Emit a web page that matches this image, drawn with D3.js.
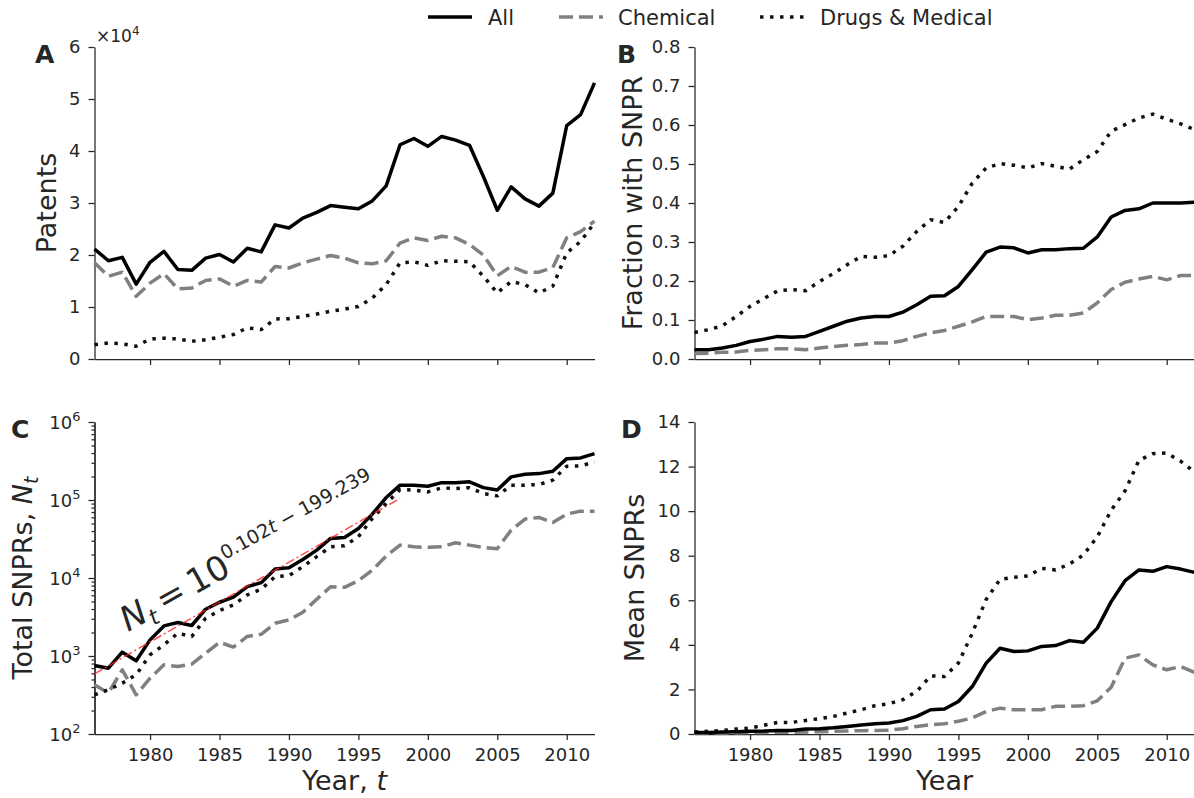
<!DOCTYPE html>
<html>
<head>
<meta charset="utf-8">
<script src="https://cdn.jsdelivr.net/npm/d3@7"></script>
<style>
body { margin: 0; background: #fff; }
text { font-family: "DejaVu Sans", sans-serif; fill: #262626; }
</style>
</head>
<body>
<script>
// years on the x axis
var years = d3.range(1976, 2013);
var xTicks = [1980, 1985, 1990, 1995, 2000, 2005, 2010];

// A: patents per year
var patentsAll = [21150, 18900, 19550, 14400, 18600, 20700, 17200, 17050, 19400, 20100, 18650, 21300, 20600, 25800, 25200, 27100, 28200, 29500, 29200, 28900, 30400, 33300, 41200, 42400, 40900, 42800, 42100, 41100, 35100, 28600, 33100, 30800, 29400, 31900, 44900, 47000, 53100];
var patentsChem = [18500, 15900, 16700, 12050, 14600, 16400, 13500, 13650, 15100, 15400, 14000, 15100, 14800, 17800, 17500, 18500, 19200, 19900, 19400, 18500, 18300, 18900, 22300, 23300, 22800, 23600, 23300, 22000, 20000, 16000, 17800, 16700, 16700, 17600, 23300, 24500, 26500];
var patentsDrug = [2750, 3100, 2900, 2450, 3850, 4000, 3850, 3400, 3700, 4200, 4700, 6000, 5650, 7700, 7750, 8200, 8650, 9200, 9600, 10100, 11700, 14300, 18500, 18700, 18000, 18900, 18800, 18700, 15900, 12700, 14900, 14300, 12700, 14000, 20400, 22600, 26200];

// B: fraction of patents with SNPR
var fracAll = [0.024, 0.024, 0.028, 0.035, 0.045, 0.051, 0.058, 0.056, 0.058, 0.071, 0.084, 0.097, 0.105, 0.109, 0.109, 0.120, 0.139, 0.161, 0.162, 0.186, 0.229, 0.274, 0.287, 0.285, 0.272, 0.280, 0.280, 0.283, 0.284, 0.313, 0.364, 0.381, 0.385, 0.400, 0.400, 0.400, 0.402];
var fracChem = [0.014, 0.015, 0.017, 0.018, 0.022, 0.024, 0.026, 0.026, 0.024, 0.028, 0.032, 0.035, 0.037, 0.041, 0.041, 0.047, 0.058, 0.067, 0.073, 0.084, 0.095, 0.109, 0.109, 0.109, 0.101, 0.105, 0.112, 0.112, 0.118, 0.144, 0.178, 0.197, 0.205, 0.212, 0.203, 0.214, 0.214];
var fracDrug = [0.068, 0.075, 0.085, 0.109, 0.135, 0.155, 0.175, 0.178, 0.175, 0.199, 0.219, 0.242, 0.263, 0.261, 0.265, 0.289, 0.327, 0.357, 0.350, 0.391, 0.451, 0.490, 0.501, 0.497, 0.490, 0.501, 0.494, 0.487, 0.511, 0.532, 0.584, 0.601, 0.618, 0.628, 0.615, 0.603, 0.588];

// C: total SNPRs (log scale)
var totalAll = [755, 698, 1120, 867, 1610, 2430, 2690, 2460, 3980, 4890, 5670, 7750, 8710, 13000, 13550, 17300, 22800, 32200, 33100, 43200, 65900, 107600, 155000, 155000, 150000, 167000, 166000, 171000, 144000, 134000, 198000, 214000, 218000, 234000, 339000, 346000, 394000];
var totalChem = [428, 335, 665, 318, 520, 770, 735, 786, 1086, 1500, 1300, 1780, 1900, 2630, 2900, 3640, 5330, 7740, 7590, 9250, 12600, 19100, 26400, 25100, 24700, 25100, 28300, 26400, 24700, 23700, 41100, 56900, 59700, 51500, 65900, 72000, 72000];
var totalDrug = [318, 369, 449, 574, 1035, 1390, 1960, 1780, 3050, 3820, 4520, 6070, 7170, 10400, 10700, 14000, 18800, 25100, 25900, 33800, 57900, 90200, 136000, 134000, 127000, 143000, 140000, 144000, 121000, 113000, 155000, 155000, 158000, 180000, 271000, 274000, 307000];
var fitYears = [1976, 1998];
var fitValues = [590, 105000];

// D: mean SNPRs
var meanAll = [0.07, 0.07, 0.09, 0.10, 0.12, 0.13, 0.16, 0.16, 0.22, 0.24, 0.28, 0.34, 0.40, 0.46, 0.49, 0.60, 0.79, 1.09, 1.12, 1.46, 2.13, 3.18, 3.85, 3.70, 3.73, 3.93, 3.97, 4.19, 4.12, 4.75, 5.94, 6.88, 7.36, 7.30, 7.51, 7.40, 7.25];
var meanChem = [0.04, 0.04, 0.05, 0.05, 0.07, 0.07, 0.08, 0.08, 0.09, 0.10, 0.12, 0.13, 0.15, 0.16, 0.17, 0.24, 0.34, 0.42, 0.46, 0.57, 0.72, 1.01, 1.16, 1.09, 1.09, 1.09, 1.24, 1.24, 1.27, 1.49, 2.10, 3.40, 3.55, 3.10, 2.88, 3.03, 2.76];
var meanDrug = [0.09, 0.12, 0.16, 0.22, 0.27, 0.39, 0.52, 0.52, 0.61, 0.69, 0.79, 0.94, 1.09, 1.27, 1.36, 1.54, 1.91, 2.61, 2.58, 3.18, 4.52, 6.04, 6.94, 7.03, 7.09, 7.43, 7.36, 7.63, 8.03, 8.85, 10.04, 10.91, 12.28, 12.58, 12.61, 12.24, 11.76];

var seriesNames = ["All", "Chemical", "Drugs & Medical"];

var svgWidth = 1194;
var svgHeight = 798;
var plotW = 500;
var plotH = 312;
var ink = "#262626";

var styles = [
    { stroke: "#000", dash: null },
    { stroke: "#808080", dash: "14,6" },
    { stroke: "#111", dash: "3.5,6.5" }
];

var svg = d3.select("body")
    .append("svg")
    .attr("width", svgWidth)
    .attr("height", svgHeight);

var panels = [
    { letter: "A", left: 94.5, top: 47, kind: "lin", domain: [0, 60000], ticks: d3.range(0, 60001, 10000),
      fmt: function (d) { return d / 10000; }, series: [patentsAll, patentsChem, patentsDrug],
      ylabel: "Patents", ylabelX: 56, letterX: 35, showX: false },
    { letter: "B", left: 694.5, top: 47, kind: "lin", domain: [0, 0.8], ticks: d3.range(0, 0.81, 0.1),
      fmt: d3.format(".1f"), series: [fracAll, fracChem, fracDrug],
      ylabel: "Fraction with SNPR", ylabelX: 642, letterX: 617, showX: false },
    { letter: "C", left: 94.5, top: 422, kind: "log", domain: [100, 1e6], ticks: [1e2, 1e3, 1e4, 1e5, 1e6],
      fmt: null, series: [totalAll, totalChem, totalDrug],
      ylabel: null, ylabelX: 32, letterX: 11, showX: true },
    { letter: "D", left: 694.5, top: 422, kind: "lin", domain: [0, 14], ticks: d3.range(0, 15, 2),
      fmt: d3.format("d"), series: [meanAll, meanChem, meanDrug],
      ylabel: "Mean SNPRs", ylabelX: 644, letterX: 621, showX: true }
];

function styleAxis(g) {
    g.select(".domain").attr("stroke", ink).attr("stroke-width", 1.25);
    g.selectAll(".tick line").attr("stroke", ink).attr("stroke-width", 1.25);
    g.selectAll(".tick text").attr("fill", ink).style("font-size", "18px")
        .style("font-family", "'DejaVu Sans', sans-serif");
}

panels.forEach(function (p) {
    var g = svg.append("g").attr("transform", `translate(${p.left}, ${p.top})`);
    var x = d3.scaleLinear().domain([1976, 2012]).range([0, plotW]);
    var y = (p.kind === "log" ? d3.scaleLog() : d3.scaleLinear()).domain(p.domain).range([plotH, 0]);

    // x axis
    var xAxis = d3.axisBottom(x).tickValues(xTicks).tickSize(6).tickSizeOuter(0).tickPadding(8)
        .tickFormat(p.showX ? d3.format("d") : "");
    g.append("g").attr("transform", `translate(0, ${plotH})`).call(xAxis).call(styleAxis);

    // y axis
    if (p.kind === "log") {
        var minor = y.ticks().filter(function (d) { return p.ticks.indexOf(d) < 0; });
        g.append("g").call(d3.axisLeft(y).tickValues(minor).tickSize(3).tickSizeOuter(0).tickFormat(""))
            .call(styleAxis);
        var yAx = g.append("g").call(d3.axisLeft(y).tickValues(p.ticks).tickSize(6).tickSizeOuter(0)
            .tickPadding(8).tickFormat("")).call(styleAxis);
        yAx.selectAll(".tick").append("text")
            .attr("x", -14).attr("dy", "0.35em").attr("text-anchor", "end")
            .style("font-size", "18px")
            .each(function (d) {
                var t = d3.select(this);
                t.append("tspan").text("10");
                t.append("tspan").attr("dy", -8).style("font-size", "13px").text(Math.round(Math.log10(d)));
            });
    } else {
        g.append("g").call(d3.axisLeft(y).tickValues(p.ticks).tickSize(6).tickSizeOuter(0)
            .tickPadding(8).tickFormat(p.fmt)).call(styleAxis);
    }

    // series lines
    var line = d3.line()
        .x(function (d, i) { return x(years[i]); })
        .y(function (d) { return y(d); });
    [1, 2, 0].forEach(function (k) {
        g.append("path")
            .datum(p.series[k])
            .attr("d", line)
            .attr("fill", "none")
            .attr("stroke", styles[k].stroke)
            .attr("stroke-width", 3.5)
            .attr("stroke-linejoin", "round")
            .attr("stroke-dasharray", styles[k].dash);
    });

    if (p.kind === "log") {
        var fitLine = d3.line()
            .x(function (d, i) { return x(fitYears[i]); })
            .y(function (d) { return y(d); });
        g.append("path")
            .datum(fitValues)
            .attr("d", fitLine)
            .attr("fill", "none")
            .attr("stroke", "#ff2020")
            .attr("stroke-opacity", 0.8)
            .attr("stroke-width", 1.5)
            .attr("stroke-dasharray", "9,3,2,3");
    }

    // panel letter
    svg.append("text")
        .attr("x", p.letterX).attr("y", p.top + 16)
        .style("font-size", "25px").style("font-weight", "bold")
        .text(p.letter);

    // y label
    var yl = svg.append("text")
        .attr("transform", `translate(${p.ylabelX}, ${p.top + plotH / 2}) rotate(-90)`)
        .attr("text-anchor", "middle")
        .style("font-size", "27px");
    if (p.ylabel) {
        yl.text(p.ylabel);
    } else {
        yl.append("tspan").text("Total SNPRs, ");
        yl.append("tspan").style("font-style", "italic").text("N");
        yl.append("tspan").style("font-style", "italic").style("font-size", "19px").attr("dy", 6).text("t");
    }

    // x label
    if (p.showX) {
        var xl = svg.append("text")
            .attr("x", p.left + plotW / 2).attr("y", 790)
            .attr("text-anchor", "middle")
            .style("font-size", "27px");
        if (p.letter === "C") {
            xl.append("tspan").text("Year, ");
            xl.append("tspan").style("font-style", "italic").text("t");
        } else {
            xl.text("Year");
        }
    }
});

// offset label for panel A
var off = svg.append("text").attr("x", 96).attr("y", 42).style("font-size", "17px");
off.append("tspan").text("\u00d710");
off.append("tspan").attr("dy", -7).style("font-size", "12px").text("4");

// fit equation in panel C
var eq = svg.append("text")
    .attr("transform", "translate(128, 632) rotate(-29)")
    .style("font-size", "34px");
eq.append("tspan").style("font-style", "italic").text("N");
eq.append("tspan").style("font-style", "italic").style("font-size", "22px").attr("dy", 7).text("t");
eq.append("tspan").attr("dy", -7).text("\u2009=\u200910");
eq.append("tspan").attr("dy", -16).style("font-size", "19px").text("0.102");
eq.append("tspan").style("font-size", "19px").style("font-style", "italic").text("t");
eq.append("tspan").style("font-size", "19px").text(" \u2212 199.239");

// legend
var legendX = [428, 559, 760];
var legendTextX = [488, 618, 820];
var legend = svg.append("g");
seriesNames.forEach(function (name, k) {
    legend.append("line")
        .attr("x1", legendX[k]).attr("x2", legendX[k] + 44)
        .attr("y1", 17).attr("y2", 17)
        .attr("stroke", styles[k].stroke)
        .attr("stroke-width", 3.5)
        .attr("stroke-dasharray", styles[k].dash);
    legend.append("text")
        .attr("x", legendTextX[k]).attr("y", 25)
        .style("font-size", "21px")
        .text(name);
});
</script>
</body>
</html>
